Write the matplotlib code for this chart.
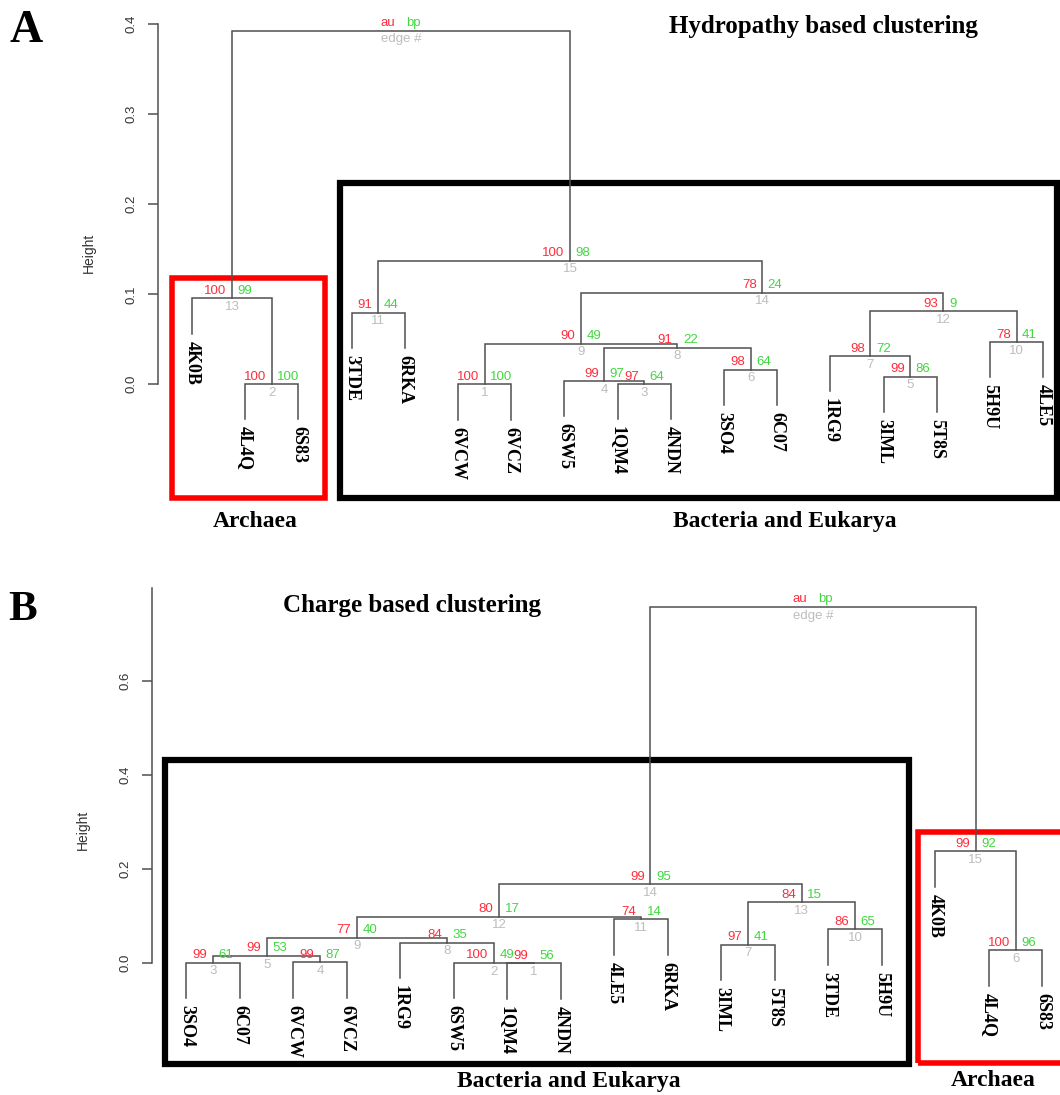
import matplotlib
matplotlib.use("Agg")
import matplotlib.pyplot as plt
from matplotlib.patches import Rectangle

# ---- panel A : hydropathy based clustering ----
leaves_a = ["4K0B", "4L4Q", "6S83", "3TDE", "6RKA", "6VCW", "6VCZ", "6SW5", "1QM4",
            "4NDN", "3SO4", "6C07", "1RG9", "3IML", "5T8S", "5H9U", "4LE5"]
# hclust style merges, negative = leaf (1-based, display order), positive = earlier merge
merge_a = [(-6, -7), (-2, -3), (-9, -10), (-8, 3), (-14, -15), (-11, -12), (-13, 5), (4, 6),
           (1, 8), (-16, -17), (-4, -5), (7, 10), (-1, 2), (9, 12), (11, 14), (13, 15)]
height_a = [0.0, 0.0002, 0.0004, 0.0037, 0.0085, 0.0162, 0.0314, 0.0407, 0.0451, 0.047,
            0.0796, 0.081, 0.0956, 0.1018, 0.1374, 0.393]
au_a = [100, 100, 97, 99, 99, 98, 98, 91, 90, 78, 91, 93, 100, 78, 100]
bp_a = [100, 100, 64, 97, 86, 64, 72, 22, 49, 41, 44, 9, 99, 24, 98]
yticks_a = [0.0, 0.1, 0.2, 0.3, 0.4]

# ---- panel B : charge based clustering ----
leaves_b = ["3SO4", "6C07", "6VCW", "6VCZ", "1RG9", "6SW5", "1QM4", "4NDN", "4LE5",
            "6RKA", "3IML", "5T8S", "3TDE", "5H9U", "4K0B", "4L4Q", "6S83"]
merge_b = [(-7, -8), (-6, 1), (-1, -2), (-3, -4), (3, 4), (-16, -17), (-11, -12), (-5, 2),
           (5, 8), (-13, -14), (-9, -10), (9, 11), (7, 10), (12, 13), (-15, 6), (14, 15)]
height_b = [0.0, 0.001, 0.0015, 0.002, 0.016, 0.0282, 0.0395, 0.0438, 0.0544, 0.0728,
            0.0934, 0.099, 0.1295, 0.1677, 0.2384, 0.757]
au_b = [99, 100, 99, 99, 99, 100, 97, 84, 77, 86, 74, 80, 84, 99, 99]
bp_b = [56, 49, 61, 87, 53, 96, 41, 35, 40, 65, 14, 17, 15, 95, 92]
yticks_b = [0.0, 0.2, 0.4, 0.6]

RED, GREEN, GRAY = "#ff2d3c", "#3fd83f", "#bdbdbd"
LINE = "#505050"
SANS = "Liberation Sans"
SERIF = "Liberation Serif"

W, H = 1060, 1095
fig = plt.figure(figsize=(W / 100, H / 100), dpi=100)


def make_axes(top_px, bot_px, leaf1_px, step_px, zero_px, unit_px):
    ax = fig.add_axes([0, 1 - bot_px / H, 1, (bot_px - top_px) / H])
    ax.set_xlim(1 - leaf1_px / step_px, 1 + (W - leaf1_px) / step_px)
    ax.set_ylim((zero_px - bot_px) / unit_px, (zero_px - top_px) / unit_px)
    return ax


def draw_tree(ax, leaves, merge, height, au, bp, yticks, ytop):
    n = len(leaves)
    hang = 0.1 * max(height)
    xs = {-(i + 1): i + 1 for i in range(n)}
    for k, (a, b) in enumerate(merge):
        h = height[k]
        ya = height[a - 1] if a > 0 else h - hang
        yb = height[b - 1] if b > 0 else h - hang
        xa, xb = xs[a], xs[b]
        ax.plot([xa, xa, xb, xb], [ya, h, h, yb], color=LINE, lw=1.1, solid_joinstyle="miter")
        xm = (xa + xb) / 2
        xs[k + 1] = xm
        for c, yc in ((a, ya), (b, yb)):
            if c < 0:
                ax.annotate(leaves[-c - 1], (xs[c], yc), xytext=(0, -5), textcoords="offset points",
                            rotation=270, ha="center", va="top", fontsize=13,
                            fontfamily=SERIF, fontweight="bold", color="black")
        if k < len(au):
            t_au, t_bp, t_ed = str(au[k]), str(bp[k]), str(k + 1)
        else:
            t_au, t_bp, t_ed = "au", "bp", "edge #"
        ax.annotate(t_au, (xm, h), xytext=(-4, 1), textcoords="offset points", ha="right",
                    va="bottom", fontsize=9.5, fontfamily=SANS, color=RED)
        ax.annotate(t_bp, (xm, h), xytext=(4, 1), textcoords="offset points", ha="left",
                    va="bottom", fontsize=9.5, fontfamily=SANS, color=GREEN)
        ax.annotate(t_ed, (xm, h), xytext=(0, -2), textcoords="offset points", ha="center",
                    va="top", fontsize=9.5, fontfamily=SANS, color=GRAY)

    # R style y axis
    for s in ("top", "right", "bottom"):
        ax.spines[s].set_visible(False)
    ax.spines["left"].set_position(("data", 1 - 0.04 * (n - 1)))
    ax.spines["left"].set_bounds(0, ytop)
    ax.spines["left"].set_color(LINE)
    ax.spines["left"].set_linewidth(1.1)
    ax.set_xticks([])
    ax.set_yticks(yticks)
    ax.set_yticklabels([f"{v:.1f}" for v in yticks], rotation=90, va="center",
                       fontfamily=SANS, fontsize=9.5, color="#333333")
    ax.tick_params(axis="y", length=7, width=1.1, color=LINE, pad=8)
    ax.patch.set_visible(False)


def box(ax, x0, x1, y0, y1, color, lw):
    ax.add_patch(Rectangle((x0, y0), x1 - x0, y1 - y0, fill=False, edgecolor=color,
                           lw=lw, clip_on=False, joinstyle="miter"))


def label(ax, x, y, s, size):
    ax.text(x, y, s, ha="center", va="center", fontsize=size, fontfamily=SERIF,
            fontweight="bold", color="black")


# panel A
ax_a = make_axes(0, 545, 192, 53.2, 384.3, 900)
draw_tree(ax_a, leaves_a, merge_a, height_a, au_a, bp_a, yticks_a, 0.4)
box(ax_a, 0.633, 3.509, -0.1258, 0.1176, "#ff0000", 4)
box(ax_a, 3.782, 17.26, -0.1258, 0.2237, "black", 4.5)
label(ax_a, 2.18, -0.1527, "Archaea", 17)
label(ax_a, 12.15, -0.1527, "Bacteria and Eukarya", 17)
label(ax_a, 12.86, 0.397, "Hydropathy based clustering", 18)
fig.text(89 / W, 1 - 253 / H, "Height", rotation=90, ha="center", va="center",
         fontsize=10, fontfamily=SANS, color="#333333")

# panel B
ax_b = make_axes(545, 1095, 186.4, 53.5, 963.3, 471)
draw_tree(ax_b, leaves_b, merge_b, height_b, au_b, bp_b, yticks_b, 0.797)
box(ax_b, 0.6, 14.5, -0.2138, 0.4306, "black", 4.5)
box(ax_b, 14.68, 17.9, -0.2123, 0.2798, "#ff0000", 4)
label(ax_b, 8.14, -0.251, "Bacteria and Eukarya", 17)
label(ax_b, 16.08, -0.249, "Archaea", 17)
label(ax_b, 5.21, 0.7586, "Charge based clustering", 18)
fig.text(83 / W, 1 - 830 / H, "Height", rotation=90, ha="center", va="center",
         fontsize=10, fontfamily=SANS, color="#333333")

# panel letters
fig.text(9 / W, 1 - 42 / H, "A", ha="left", va="baseline", fontsize=33,
         fontfamily=SERIF, fontweight="bold")
fig.text(8 / W, 1 - 620 / H, "B", ha="left", va="baseline", fontsize=31,
         fontfamily=SERIF, fontweight="bold")

fig.savefig("out.png", dpi=100)
